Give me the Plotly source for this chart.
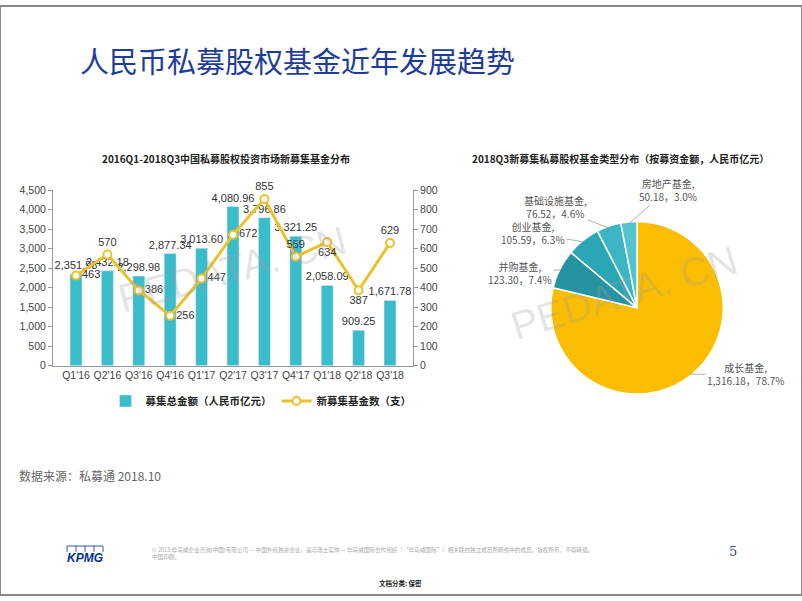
import math
import plotly.graph_objects as go

W, H = 802, 601

# ---------------- data ----------------
quarters = ["Q1'16", "Q2'16", "Q3'16", "Q4'16", "Q1'17", "Q2'17", "Q3'17", "Q4'17", "Q1'18", "Q2'18", "Q3'18"]
amount = [2351.98, 2432.18, 2298.98, 2877.34, 3013.60, 4080.96, 3796.86, 3321.25, 2058.09, 909.25, 1671.78]
fund_count = [463, 570, 386, 256, 447, 672, 855, 559, 634, 387, 629]

pie_labels = ["成长基金", "并购基金", "创业基金", "基础设施基金", "房地产基金"]
pie_values = [1316.18, 123.30, 105.59, 76.52, 50.18]
pie_pcts = ["78.7%", "7.4%", "6.3%", "4.6%", "3.0%"]

left_ticks = [0, 500, 1000, 1500, 2000, 2500, 3000, 3500, 4000, 4500]
right_ticks = [0, 100, 200, 300, 400, 500, 600, 700, 800, 900]

FONT = "Noto Sans CJK SC, Arial, sans-serif"
BAR_C = "#3BBCCB"
LINE_C = "#EBC12C"
PIE_C = ["#FBBD00", "#2593A0", "#2BA6B5", "#3CB6C5", "#52C3CF"]


def px(x):
    return x / W


def py(y):
    return 1 - y / H


fig = go.Figure()

fig.add_trace(go.Bar(
    x=quarters, y=amount, name="<b>募集总金额（人民币亿元）</b>",
    marker=dict(color=BAR_C), width=0.38,
    text=[f"{v:,.2f}" for v in amount], textposition="outside", constraintext="none",
    textfont=dict(size=11, color="#333", family="Arial"),
    cliponaxis=False, xaxis="x", yaxis="y",
))

line_pos = ["middle right", "top center", "middle right", "middle right", "middle right",
            "middle right", "top center", "top center", "bottom center", "bottom center", "top center"]
fig.add_trace(go.Scatter(
    x=quarters, y=fund_count, name="<b>新募集基金数（支）</b>",
    mode="lines+markers+text",
    line=dict(color=LINE_C, width=3),
    marker=dict(size=8, color="white", line=dict(color=LINE_C, width=2)),
    text=[str(v) for v in fund_count], textposition=line_pos,
    textfont=dict(size=11, color="#333", family="Arial"),
    cliponaxis=False, xaxis="x", yaxis="y2",
))

# pie geometry
pie_x0, pie_x1 = 549, 725
pie_y0, pie_y1 = 220, 396
fig.add_trace(go.Pie(
    values=pie_values, labels=pie_labels, sort=False, direction="clockwise", rotation=0,
    marker=dict(colors=PIE_C, line=dict(color="white", width=1.5)),
    textinfo="none", hoverinfo="label+value+percent", showlegend=False,
    domain=dict(x=[px(pie_x0), px(pie_x1)], y=[py(pie_y1), py(pie_y0)]),
))

annotations = []

# pie labels with leader lines computed from slice mid angles
cx, cy = (pie_x0 + pie_x1) / 2, (pie_y0 + pie_y1) / 2
r = (pie_x1 - pie_x0) / 2
total = sum(pie_values)
label_centers = {
    "成长基金": (746, 376),
    "并购基金": (520, 272),
    "创业基金": (533, 232),
    "基础设施基金": (555, 206),
    "房地产基金": (668, 188),
}
cum = 0
for lab, val, pct in zip(pie_labels, pie_values, pie_pcts):
    mid = (cum + val / 2) / total * 2 * math.pi
    cum += val
    tx = cx + r * 0.98 * math.sin(mid)
    ty = cy - r * 0.98 * math.cos(mid)
    lx, ly = label_centers[lab]
    annotations.append(dict(
        x=px(tx), y=py(ty), xref="paper", yref="paper",
        text=f"{lab},<br>{val:,.2f}，{pct}", showarrow=True, arrowhead=0,
        arrowwidth=0.8, arrowcolor="#9a9a9a", ax=lx - tx, ay=ly - ty,
        font=dict(size=10, color="#555", family=FONT), align="center",
    ))


def note(x, y, text, size, color, family=FONT, xanchor="center", **kw):
    return dict(x=px(x), y=py(y), xref="paper", yref="paper", xanchor=xanchor, yanchor="middle",
                text=text, showarrow=False, font=dict(size=size, color=color, family=family), **kw)


annotations += [
    note(78, 55, "人民币私募股权基金近年发展趋势", 29, "#1E3D9A", xanchor="left"),
    note(226, 156, "<b>2016Q1-2018Q3中国私募股权投资市场新募集基金分布</b>", 10, "#222"),
    note(620, 156, "<b>2018Q3新募集私募股权基金类型分布（按募资金额，人民币亿元）</b>", 10, "#222"),
    note(17, 479, "数据来源：私募通 2018.10", 12, "#666", xanchor="left"),
    note(232, 268, "PEDATA. CN", 40, "rgba(160,160,160,0.28)", family="Arial", textangle=-15),
    note(624, 293, "PEDATA. CN", 40, "rgba(160,160,160,0.28)", family="Arial", textangle=-17),
    note(85, 563, "<b><i>KPMG</i></b>", 12, "#00338D", family="Arial"),
    note(150, 559,
         "© 2018 毕马威企业咨询(中国)有限公司 — 中国外商独资企业，是与瑞士实体 — 毕马威国际合作组织（“毕马威国际”）相关联的独立成员所网络中的成员。版权所有，不得转载。<br>中国印刷。",
         5.6, "#aaa", xanchor="left", align="left"),
    note(733, 557, "5", 13, "#3a4a7a", family="DejaVu Serif, serif"),
    note(400, 589, "<b>文档分类: 保密</b>", 6.5, "#222"),
]

shapes = [
    dict(type="rect", xref="paper", yref="paper", x0=0, y0=0, x1=1, y1=1,
         line=dict(color="#888", width=2)),
    dict(type="line", xref="paper", yref="paper", x0=px(67), x1=px(103), y0=py(551), y1=py(551),
         line=dict(color="#00338D", width=0.8)),
]
for xx in [67, 76, 85, 94, 103]:
    shapes.append(dict(type="line", xref="paper", yref="paper", x0=px(xx), x1=px(xx),
                       y0=py(551), y1=py(557), line=dict(color="#00338D", width=0.8)))

axis_font = dict(size=10.5, color="#444", family="Arial")
fig.update_layout(
    width=W, height=H,
    margin=dict(l=0, r=0, t=0, b=0),
    paper_bgcolor="white", plot_bgcolor="white",
    font=dict(family=FONT),
    xaxis=dict(domain=[px(53), px(413)], anchor="y", showline=True, linecolor="#999",
               linewidth=1, ticks="", tickfont=axis_font, showgrid=False),
    yaxis=dict(domain=[py(367), py(188)], anchor="x", range=[0, 4500], tickvals=left_ticks,
               tickformat=",d", showline=True, linecolor="#999", ticks="outside", ticklen=4,
               tickcolor="#999", tickfont=axis_font, showgrid=False, zeroline=False),
    yaxis2=dict(overlaying="y", side="right", anchor="x", range=[0, 900], tickvals=right_ticks,
                showline=True, linecolor="#999", ticks="outside", ticklen=4, tickcolor="#999",
                tickfont=axis_font, showgrid=False, zeroline=False),
    legend=dict(orientation="h", x=px(261), y=py(403), xanchor="center", yanchor="middle",
                font=dict(size=10.5, color="#222", family=FONT), itemwidth=30,
                bgcolor="rgba(0,0,0,0)"),
    annotations=annotations,
    shapes=shapes,
)

fig.write_html("out.html", config={"displayModeBar": False},
               post_script="document.body.style.margin='0px';document.body.style.overflow='hidden';")
